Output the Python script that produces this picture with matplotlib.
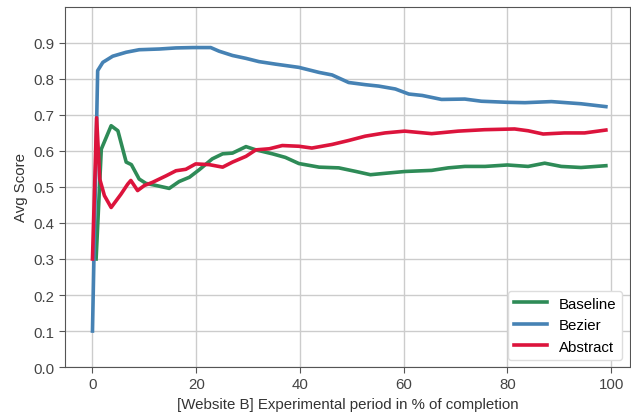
import matplotlib
matplotlib.use("Agg")
import matplotlib.pyplot as plt

plt.rcParams['font.family'] = ['Liberation Sans', 'DejaVu Sans']

# values
bezier_x = [0, 1, 2, 3.9, 6.5, 9, 12.9, 16.1, 19.4, 22.8, 24.4, 27, 29.6, 32.1, 35.3, 39.8,
            43.7, 46.2, 49.4, 52.6, 55.2, 58.4, 61, 63.6, 67.3, 71.8, 75, 80, 83.4, 88.5, 94.2, 99]
bezier_y = [0.10, 0.823, 0.846, 0.863, 0.874, 0.881, 0.883, 0.886, 0.887, 0.887, 0.877, 0.865, 0.857,
            0.848, 0.841, 0.832, 0.818, 0.811, 0.79, 0.784, 0.78, 0.772, 0.758, 0.754, 0.743, 0.744,
            0.738, 0.735, 0.734, 0.737, 0.731, 0.723]

baseline_x = [0.7, 1.7, 3.6, 4.9, 6.5, 7.5, 9, 10.3, 12.3, 14.8, 16.7, 18.7, 20.6, 23.1, 25.1,
              27, 29.6, 31.5, 34.7, 37.2, 39.8, 43.7, 47.5, 50.8, 53.6, 56.5, 60.3, 65.4, 68.6,
              71.8, 75.7, 80, 84, 87.2, 90.4, 94.2, 99]
baseline_y = [0.30, 0.605, 0.67, 0.656, 0.569, 0.562, 0.522, 0.51, 0.504, 0.496, 0.515,
              0.527, 0.548, 0.578, 0.592, 0.594, 0.612, 0.603, 0.592, 0.582, 0.565, 0.555, 0.553,
              0.543, 0.534, 0.538, 0.543, 0.546, 0.553, 0.557, 0.557, 0.561, 0.557, 0.566, 0.557,
              0.554, 0.559]

abstract_x = [0, 0.8, 1.4, 2.3, 3.6, 5.5, 6.8, 7.4, 8.7, 10, 11.6, 14.2, 16.1, 18, 19.9, 22.5, 25.1,
              27, 29.6, 31.5, 34.1, 36.6, 39.8, 42.3, 46.2, 49.4, 52.6, 56.4, 60.2, 65.4, 70.5,
              75.6, 81.4, 84, 86.9, 91, 94.9, 99]
abstract_y = [0.30, 0.692, 0.522, 0.476, 0.443, 0.48, 0.508, 0.518, 0.49, 0.504, 0.513, 0.531, 0.545,
              0.549, 0.564, 0.562, 0.555, 0.569, 0.585, 0.603, 0.606, 0.615, 0.613, 0.608, 0.618,
              0.629, 0.641, 0.65, 0.655, 0.648, 0.655, 0.659, 0.661, 0.656, 0.647, 0.65, 0.65, 0.658]

yticks = [0.0, 0.1, 0.2, 0.3, 0.4, 0.5, 0.6, 0.7, 0.8, 0.9]

fig = plt.figure(figsize=(6.31, 4.14), dpi=100)
ax = fig.add_axes([0.103, 0.111, 0.895, 0.870])

ax.plot(baseline_x, baseline_y, color='#2e8b57', lw=2.6, label='Baseline')
ax.plot(bezier_x, bezier_y, color='#4682b4', lw=2.6, label='Bezier')
ax.plot(abstract_x, abstract_y, color='#dc143c', lw=2.6, label='Abstract')

ax.set_xlim(-5.3, 103.6)
ax.set_ylim(0, 1.0)
ax.set_yticks(yticks)
ax.set_xticks([0, 20, 40, 60, 80, 100])
ax.grid(True, color='#cccccc', lw=1.0)
ax.set_axisbelow(True)
for s in ax.spines.values():
    s.set_color('#555555')
ax.tick_params(colors='#444444', labelsize=10.8, length=4, color='#555555')
ax.set_xlabel('[Website B] Experimental period in % of completion', fontsize=10.8, color='#333333')
ax.set_ylabel('Avg Score', fontsize=10.8, color='#333333')
ax.legend(loc='lower right', fontsize=10.8, framealpha=1, edgecolor='#dddddd', handlelength=2.2)

fig.savefig('out.png', dpi=100)
